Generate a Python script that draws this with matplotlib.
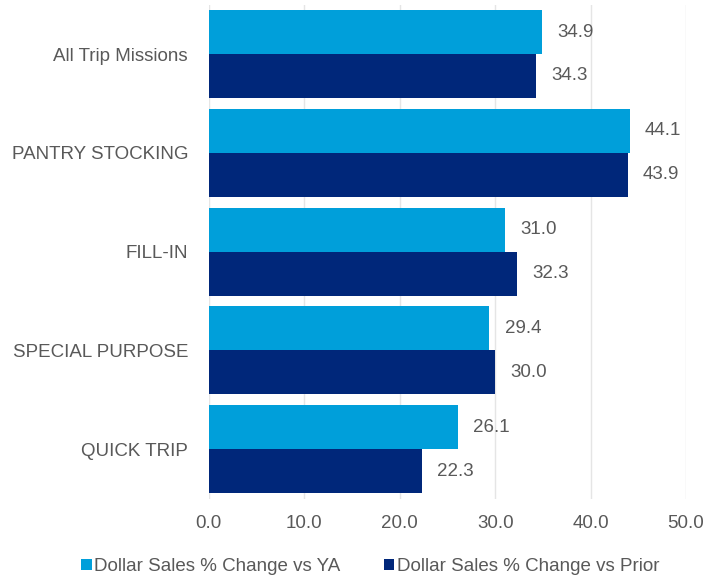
import numpy as np
import matplotlib.pyplot as plt

categories = ['All Trip Missions', 'PANTRY STOCKING', 'FILL-IN', 'SPECIAL PURPOSE', 'QUICK TRIP']
vs_ya = [34.9, 44.1, 31.0, 29.4, 26.1]
vs_prior = [34.3, 43.9, 32.3, 30.0, 22.3]
series_names = ['Dollar Sales % Change vs YA', 'Dollar Sales % Change vs Prior']
xticks = [0, 10, 20, 30, 40, 50]

plt.rcParams['font.family'] = ['Liberation Sans', 'DejaVu Sans']
gray = '#595959'
light = '#009FDA'
dark = '#00277A'
fs = 13.5

fig = plt.figure(figsize=(7.08, 5.77), dpi=100)
ax = fig.add_axes([0.295, 0.136, 0.674, 0.856])

y = np.arange(len(categories))
h = 0.445
b1 = ax.barh(y - h / 2, vs_ya, height=h, color=light, label=series_names[0], zorder=2)
b2 = ax.barh(y + h / 2, vs_prior, height=h, color=dark, label=series_names[1], zorder=2)

for bars, vals in ((b1, vs_ya), (b2, vs_prior)):
    for bar, v in zip(bars, vals):
        ax.text(v + 1.6, bar.get_y() + bar.get_height() / 2, f'{v:.1f}',
                va='center', ha='left', fontsize=fs, color=gray)

ax.set_ylim(len(categories) - 0.5, -0.5)
ax.set_xlim(0, 50)
ax.set_yticks(y)
ax.set_yticklabels(categories, fontsize=fs, color=gray)
ax.set_xticks(xticks)
ax.set_xticklabels([f'{t:.1f}' for t in xticks], fontsize=fs, color=gray)
ax.tick_params(length=0)
ax.tick_params(axis='y', pad=15)
ax.tick_params(axis='x', pad=11.5)
ax.grid(axis='x', color='#E5E5E5', linewidth=1, zorder=0)
for s in ax.spines.values():
    s.set_visible(False)

fig.legend(handles=[b1, b2], loc='center', bbox_to_anchor=(0.523, 0.018), ncol=2,
           frameon=False, fontsize=fs, labelcolor=gray, handlelength=0.55, handleheight=0.55,
           handletextpad=0.15, columnspacing=2.3, borderpad=0)

fig.savefig('out.png', dpi=100)
